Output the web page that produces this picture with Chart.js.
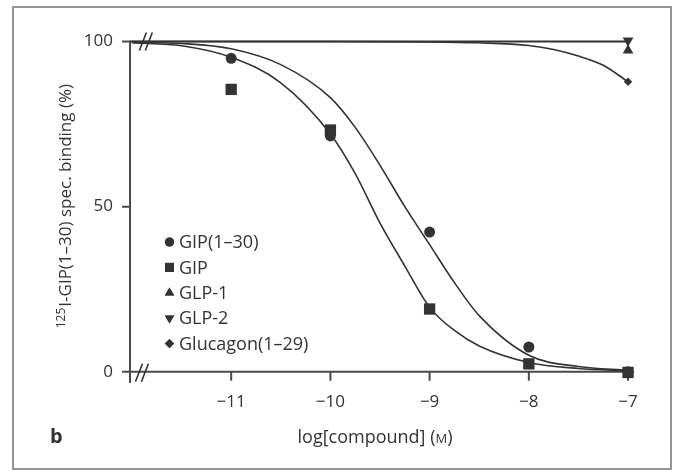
<!DOCTYPE html>
<html>
<head>
<meta charset="utf-8">
<script src="https://cdn.jsdelivr.net/npm/chart.js@4.4.1/dist/chart.umd.min.js"></script>
<style>
  html, body { margin: 0; padding: 0; background: #fff; }
  #wrap { width: 678px; height: 471px; position: relative; }
</style>
</head>
<body>
<div id="wrap"><canvas id="binding-chart"></canvas></div>
<script>
// measured points, log[compound] (M) vs % specific binding
const doseX = [-11, -10, -9, -8, -7];
const gip130 = [94.9, 71.4, 42.3, 7.5, 0];
const gipFull = [85.5, 73.2, 19, 2.4, -0.2];
const singleX = [-7];
const glp1 = [97.3];
const glp2 = [100.3];
const glucagon = [87.8];

// fitted curves
const fitX = [-12, -11.5, -11, -10.5, -10, -9.75, -9.5, -9.25, -9, -8.75, -8.5, -8, -7.5, -7];
const fitGip = [99.6, 98.7, 95.2, 87.5, 72, 60, 45, 32, 19.5, 12.5, 7.8, 2.8, 1, 0.3];
const fitGip130 = [99.8, 99.4, 97.8, 93, 83, 74, 62.5, 50, 38.5, 27, 17, 5, 1.6, 0.5];
const glucFitX = [-12, -11, -10, -9, -8.5, -8, -7.75, -7.5, -7.25, -7];
const glucFit = [100, 100, 100, 99.9, 99.6, 98.8, 97.6, 95.6, 92.8, 87.8];
const flatX = [-12.02, -7];
const flatY = [100, 100];

const xTicks = [-11, -10, -9, -8, -7];
const yTicks = [0, 50, 100];

const ink = '#333';
const fontFamily = '"Open Sans", "DejaVu Sans", sans-serif';

function pts(xs, ys) {
  return xs.map((v, i) => ({ x: v, y: ys[i] }));
}

function curve(data, width) {
  return {
    data: data,
    showLine: true,
    pointRadius: 0,
    borderColor: ink,
    borderWidth: width || 1.6,
    cubicInterpolationMode: 'monotone',
    clip: false,
    legendSkip: true
  };
}

function marks(label, data, style, radius, rotation) {
  return {
    label: label,
    data: data,
    showLine: false,
    pointStyle: style,
    pointRadius: radius,
    pointRotation: rotation || 0,
    backgroundColor: ink,
    borderColor: ink,
    borderWidth: 0,
    clip: false
  };
}

const legendSizes = { circle: 4.6, rect: 6.4, triangle: 5.4, rectRot: 4.6 };

const decor = {
  id: 'decor',
  beforeDatasetsDraw(chart) {
    const { ctx, scales: { x, y } } = chart;
    const left = x.left;
    const y0 = y.getPixelForValue(0);
    const y100 = y.getPixelForValue(100);
    ctx.save();
    ctx.strokeStyle = '#4a4a4a';
    ctx.lineWidth = 2;
    ctx.beginPath();
    // y axis
    ctx.moveTo(left, y100 - 1);
    ctx.lineTo(left, y.bottom);
    // x axis at zero
    ctx.moveTo(left, y0);
    ctx.lineTo(x.right, y0);
    // y ticks
    yTicks.forEach(v => {
      const p = y.getPixelForValue(v);
      ctx.moveTo(left - 8, p);
      ctx.lineTo(left, p);
    });
    // x ticks
    xTicks.forEach(v => {
      const p = x.getPixelForValue(v);
      ctx.moveTo(p, y0);
      ctx.lineTo(p, y0 + 9);
    });
    ctx.stroke();
    ctx.restore();
  },
  afterDraw(chart) {
    const { ctx, scales: { x, y } } = chart;
    const y0 = y.getPixelForValue(0);
    const y100 = y.getPixelForValue(100);
    ctx.save();

    // axis breaks
    ctx.strokeStyle = ink;
    ctx.lineWidth = 1.6;
    ctx.beginPath();
    [-11.89, -11.83].forEach(v => {
      const p = x.getPixelForValue(v);
      ctx.moveTo(p + 3.5, y100 - 9);
      ctx.lineTo(p - 3.5, y100 + 9);
    });
    [-11.93, -11.87].forEach(v => {
      const p = x.getPixelForValue(v);
      ctx.moveTo(p + 3.5, y0 - 8);
      ctx.lineTo(p - 3.5, y0 + 10);
    });
    ctx.stroke();

    // legend
    ctx.font = '18px ' + fontFamily;
    ctx.textBaseline = 'middle';
    ctx.textAlign = 'left';
    let row = 0;
    chart.data.datasets.forEach(ds => {
      if (ds.legendSkip) return;
      const cy = 242 + row * 25.4;
      Chart.helpers.drawPoint(ctx, {
        pointStyle: ds.pointStyle,
        radius: legendSizes[ds.pointStyle],
        rotation: ds.pointRotation,
        borderWidth: 0
      }, 169.5, cy);
      ctx.fillStyle = ink;
      ctx.fill();
      ctx.fillText(ds.label, 179, cy + 1);
      row++;
    });

    // x axis title with small-caps M
    ctx.fillStyle = ink;
    ctx.textBaseline = 'alphabetic';
    const part1 = 'log[compound] (';
    const partM = 'M';
    const part2 = ')';
    ctx.font = '18px ' + fontFamily;
    const w1 = ctx.measureText(part1).width;
    const w2 = ctx.measureText(part2).width;
    ctx.font = '13px ' + fontFamily;
    const wm = ctx.measureText(partM).width;
    let tx = 375 - (w1 + wm + w2) / 2;
    ctx.font = '18px ' + fontFamily;
    ctx.fillText(part1, tx, 443);
    ctx.font = '13px ' + fontFamily;
    ctx.fillText(partM, tx + w1, 443);
    ctx.font = '18px ' + fontFamily;
    ctx.fillText(part2, tx + w1 + wm, 443);

    // y axis title with superscript 125
    ctx.save();
    ctx.translate(71, (y100 + y0) / 2);
    ctx.rotate(-Math.PI / 2);
    const sup = '125';
    const rest = 'I-GIP(1–30) spec. binding (%)';
    ctx.font = '12px ' + fontFamily;
    const ws = ctx.measureText(sup).width;
    ctx.font = '17px ' + fontFamily;
    const wr = ctx.measureText(rest).width;
    const sx = -(ws + wr) / 2;
    ctx.font = '12px ' + fontFamily;
    ctx.fillText(sup, sx, -6);
    ctx.font = '17px ' + fontFamily;
    ctx.fillText(rest, sx + ws + 1, 0);
    ctx.restore();

    // panel letter
    ctx.font = 'bold 20px ' + fontFamily;
    ctx.fillText('b', 50, 443);

    // outer frame
    ctx.strokeStyle = '#707070';
    ctx.lineWidth = 1.5;
    ctx.strokeRect(13, 7, 658, 462);
    ctx.restore();
  }
};

new Chart(document.getElementById('binding-chart'), {
  type: 'scatter',
  data: {
    datasets: [
      curve(pts(flatX, flatY), 2),
      curve(pts(fitX, fitGip)),
      curve(pts(fitX, fitGip130)),
      curve(pts(glucFitX, glucFit)),
      marks('GIP(1–30)', pts(doseX, gip130), 'circle', 5.5),
      marks('GIP', pts(doseX, gipFull), 'rect', 8),
      marks('GLP-1', pts(singleX, glp1), 'triangle', 6.2),
      marks('GLP-2', pts(singleX, glp2), 'triangle', 6.2, 180),
      marks('Glucagon(1–29)', pts(singleX, glucagon), 'rectRot', 4.2)
    ]
  },
  options: {
    responsive: true,
    maintainAspectRatio: false,
    animation: false,
    layout: { padding: { left: 0, right: 44, top: 41.5, bottom: 0 } },
    plugins: { legend: { display: false }, tooltip: { enabled: false } },
    scales: {
      x: {
        type: 'linear',
        min: -12.02,
        max: -6.94,
        grid: { display: false, drawTicks: false },
        border: { display: false },
        afterBuildTicks: s => { s.ticks = xTicks.map(v => ({ value: v })); },
        afterFit: s => { s.height = 88; },
        ticks: {
          padding: 9,
          color: ink,
          font: { family: fontFamily, size: 17 },
          callback: v => String(v).replace('-', '−')
        }
      },
      y: {
        min: -3.4,
        max: 100,
        grid: { display: false, drawTicks: false },
        border: { display: false },
        afterBuildTicks: s => { s.ticks = yTicks.map(v => ({ value: v })); },
        afterFit: s => { s.width = 130; },
        ticks: {
          padding: 17,
          color: ink,
          font: { family: fontFamily, size: 17 }
        }
      }
    }
  },
  plugins: [decor]
});
</script>
</body>
</html>
